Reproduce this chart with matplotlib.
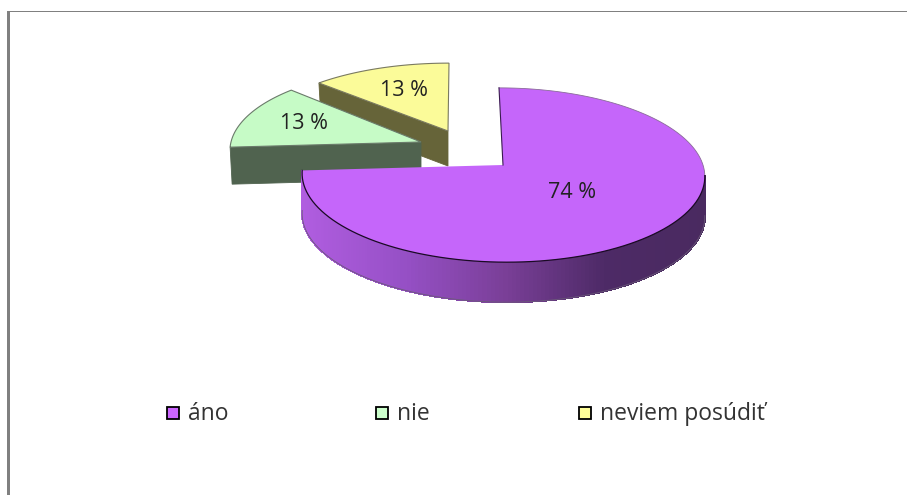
import numpy as np
import matplotlib
matplotlib.use('Agg')
import matplotlib.pyplot as plt
from matplotlib.patches import Polygon, Rectangle

# survey answers, percent
labels = ['áno', 'nie', 'neviem posúdiť']
shares = [74, 13, 13]

top_colors = ['#C566FA', '#C6FBC6', '#FBFB99']
legend_colors = ['#CC66FF', '#CCFFCC', '#FFFF99']
cut_colors = [None, '#50634F', '#666439']
edge_colors = [None, '#6A7A6A', '#7A7A60']

# tilted pie geometry
RX = 200.0
RY = 86.0
PERSP = 0.115
RIM_TURN = 97.0  # where the rim passes from the back of the pie to the front
apex = [(503, 165), (421, 142), (448, 131)]
scale_x = [1.0, 0.95, 0.96]
scale_y = [1.0, 0.95, 0.88]
shear = [-4.0, -2.0, 1.0]
depth = [40, 37, 35]
label_r = [0.45, 0.67, 0.62]
draw_order = [2, 1, 0]

# purple rim shading, left to right
wall_pos = [0.0, 0.25, 0.5, 0.75, 1.0]
wall_rgb = np.array([[176, 93, 224], [150, 80, 198], [122, 63, 152],
                     [77, 42, 102], [74, 42, 96]]) / 255.0


def project(i, deg, r=1.0):
    """Clockwise angle from the top of the pie -> position on the page."""
    th = np.radians(deg)
    X = r * np.sin(th)
    Y = r * np.cos(th)
    s = 1.0 / (1.0 + PERSP * Y)
    x = apex[i][0] + RX * scale_x[i] * X * s + shear[i] * Y
    y = apex[i][1] - RY * scale_y[i] * Y * s
    return x, y


fig = plt.figure(figsize=(9.07, 4.95), dpi=100)
ax = fig.add_axes([0, 0, 1, 1])
ax.set_xlim(0, 907)
ax.set_ylim(495, 0)
ax.axis('off')

# chart frame
ax.add_patch(Rectangle((7, 11), 3, 484, fc='#808080', ec='none'))
ax.add_patch(Rectangle((7, 11), 900, 1, fc='#808080', ec='none'))

starts = np.concatenate(([0], np.cumsum(shares)[:-1])) * 3.6
ends = np.cumsum(shares) * 3.6

for i in draw_order:
    a0, a1 = starts[i], ends[i]
    deg = np.linspace(a0, a1, 120)
    rim_x, rim_y = project(i, deg)
    d = depth[i]
    px, py = apex[i]

    if i == 0:
        # outer wall of the big slice, only its front half shows
        wall = np.linspace(RIM_TURN, a1, 160)
        wx, wy = project(i, wall)
        for k in range(len(wall) - 1):
            t = ((wx[k] + wx[k + 1]) / 2 - wx.min()) / (wx.max() - wx.min())
            col = [np.interp(t, wall_pos, wall_rgb[:, c]) for c in range(3)]
            quad = [(wx[k], wy[k]), (wx[k + 1], wy[k + 1]),
                    (wx[k + 1], wy[k + 1] + d), (wx[k], wy[k] + d)]
            ax.add_patch(Polygon(quad, fc=col, ec=col, lw=0.8, antialiased=False))
        ax.plot(wx, wy + d, color='#6A5A78', lw=0.6)
    else:
        # cut face in front of the slice
        cx, cy = project(i, a0)
        cut = [(cx, cy), (px, py), (px, py + d), (cx + 2, cy + d)]
        ax.add_patch(Polygon(cut, fc=cut_colors[i], ec=cut_colors[i], lw=0.6))

    face = np.column_stack((np.r_[px, rim_x], np.r_[py, rim_y]))
    if i == 0:
        ax.add_patch(Polygon(face, closed=True, fc=top_colors[i], ec='none'))
        back = np.linspace(0, RIM_TURN, 60)
        front = np.linspace(RIM_TURN, a1, 160)
        ax.plot(*project(i, back), color='#8A6A9A', lw=0.6)
        ax.plot(*project(i, front), color='#1A0A24', lw=0.9)
        top_x, top_y = project(i, 0.0)
        ax.plot([top_x, px], [top_y, py], color='#3A1A50', lw=0.8)
    else:
        ax.add_patch(Polygon(face, closed=True, fc=top_colors[i],
                             ec=edge_colors[i], lw=0.8))

    mid = (a0 + a1) / 2
    tx, ty = project(i, mid, label_r[i])
    ax.text(tx, ty, f'{shares[i]} %', ha='center', va='center',
            family='Open Sans', fontsize=15.5, color='#222222')

# legend row
legend_x = [167, 376, 579]
for x0, name, col in zip(legend_x, labels, legend_colors):
    ax.add_patch(Rectangle((x0, 407), 12, 12, fc=col, ec='black', lw=1.3))
    ax.text(x0 + 21, 414, name, ha='left', va='center',
            family='Open Sans', fontsize=16.5, color='#333333')

fig.savefig('out.png', dpi=100)
